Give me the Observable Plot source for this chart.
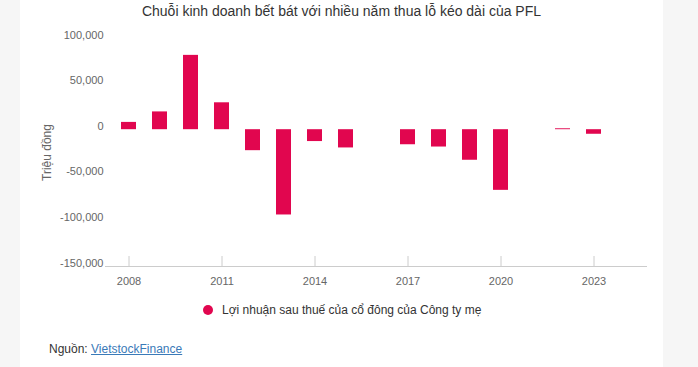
<!DOCTYPE html>
<html>
<head>
<meta charset="utf-8">
<script src="https://cdn.jsdelivr.net/npm/d3@7"></script>
<script src="https://cdn.jsdelivr.net/npm/@observablehq/plot@0.6"></script>
<style>
html, body { margin: 0; padding: 0; }
body { width: 698px; height: 367px; background: #f6f6f6; position: relative; overflow: hidden; font-family: "Liberation Sans", Arial, sans-serif; }
#card { position: absolute; left: 20px; top: 0; width: 643px; height: 367px; background: #fff; }
#title { position: absolute; left: 20px; width: 643px; top: 3px; text-align: center; font-size: 14px; color: #333; }
#chart { position: absolute; left: 0; top: 0; }
#legend { position: absolute; left: 203px; top: 303px; font-size: 12px; color: #333; display: flex; align-items: center; }
#legend .dot { width: 10px; height: 10px; border-radius: 50%; background: #e1064f; margin-right: 9px; }
#source { position: absolute; left: 49px; top: 342px; font-size: 12px; color: #333; }
#source a { color: #3a7ab8; text-decoration: underline; }
</style>
</head>
<body>
<div id="card"></div>
<div id="title">Chuỗi kinh doanh bết bát với nhiều năm thua lỗ kéo dài của PFL</div>
<div id="chart"></div>
<div id="legend"><span class="dot"></span><span>Lợi nhuận sau thuế của cổ đông của Công ty mẹ</span></div>
<div id="source">Nguồn: <a>VietstockFinance</a></div>
<script>
const years = [2008, 2009, 2010, 2011, 2012, 2013, 2014, 2015, 2016, 2017, 2018, 2019, 2020, 2021, 2022, 2023];
const profit = [8000, 19500, 81500, 29500, -23000, -93500, -13000, -20000, null, -16500, -19000, -33500, -66500, null, 1000, -5000];
const xDomain = [2008, 2009, 2010, 2011, 2012, 2013, 2014, 2015, 2016, 2017, 2018, 2019, 2020, 2021, 2022, 2023, 2024];
const xTicks = [2008, 2011, 2014, 2017, 2020, 2023];
const yTicks = [-150000, -100000, -50000, 0, 50000, 100000];
const seriesName = "Lợi nhuận sau thuế của cổ đông của Công ty mẹ";
const yTitle = "Triệu đồng";

const data = years.map((year, i) => ({year, value: profit[i]}));

const W = 698, H = 300, mT = 38, mB = 34, mL = 105, mR = 51;
const barColor = "#e1064f";

const chart = Plot.plot({
  width: W,
  height: H,
  marginTop: mT,
  marginBottom: mB,
  marginLeft: mL,
  marginRight: mR,
  style: { fontFamily: "'Liberation Sans', Arial, sans-serif", fontSize: "11px", color: "#666", background: "transparent" },
  x: { type: "band", domain: xDomain, paddingInner: 0.52, paddingOuter: 0.376, align: 0.5 },
  y: { domain: [-150000, 100000] },
  marks: [
    Plot.ruleY([-150000], { stroke: "#cccccc" }),
    Plot.ruleX(xTicks, { x: d => d, stroke: "#cccccc", insetTop: H - mT - mB - 10 }),
    Plot.barY(data.filter(d => d.value != null), { x: "year", y: "value", fill: barColor }),
    Plot.axisY({ ticks: yTicks, tickSize: 0, tickPadding: 2, dy: -3.5, tickFormat: d => d.toLocaleString("en-US"), label: null }),
    Plot.axisX({ ticks: xTicks, tickSize: 0, tickPadding: 11, tickFormat: d => String(d), label: null }),
    Plot.text([yTitle], { frameAnchor: "left", textAnchor: "middle", rotate: -90, dx: -58, fill: "#666", fontSize: 12 })
  ]
});
document.getElementById("chart").appendChild(chart);
</script>
</body>
</html>
